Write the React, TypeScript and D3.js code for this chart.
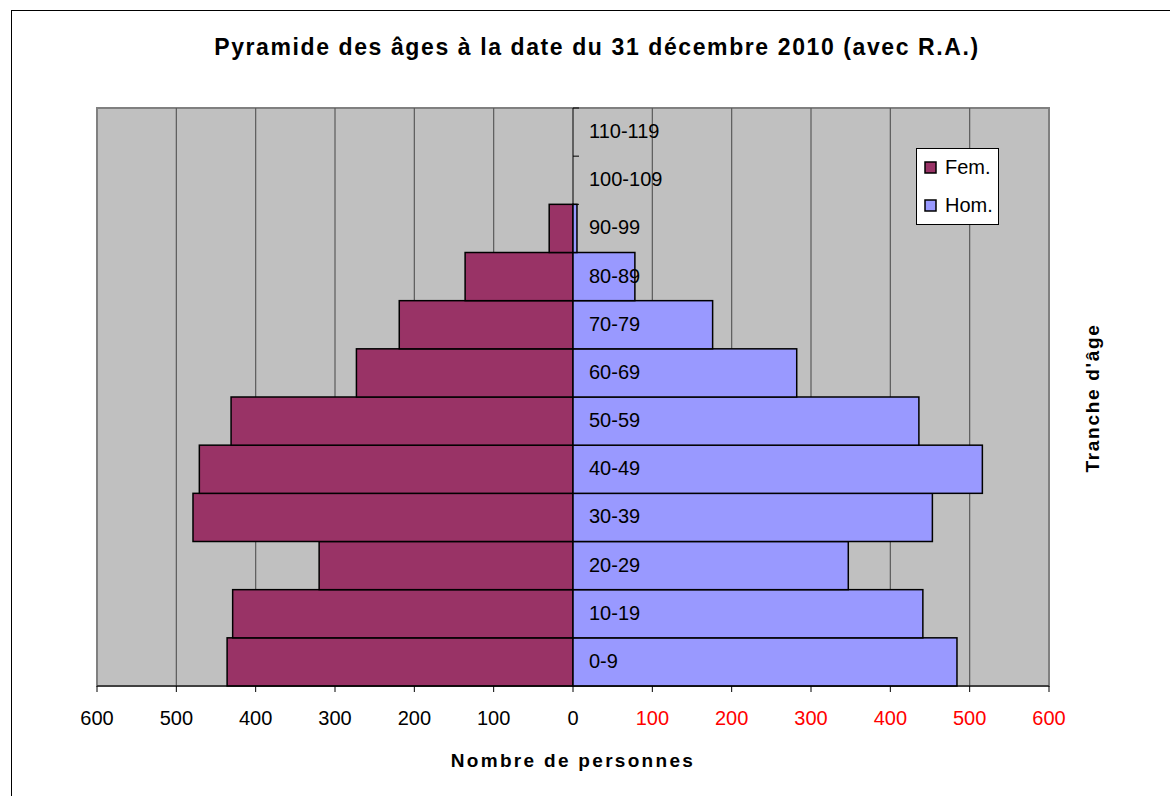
import React, { useEffect, useRef } from 'react';
import * as d3 from 'd3';

// tranches d'âge, de bas en haut
const tranches = ['0-9', '10-19', '20-29', '30-39', '40-49', '50-59', '60-69', '70-79', '80-89', '90-99', '100-109', '110-119'];
const femmes = [436, 429, 320, 479, 471, 431, 273, 219, 136, 30, 0, 0];
const hommes = [484, 441, 347, 453, 516, 436, 282, 176, 78, 5, 0, 0];
const ticks = [-600, -500, -400, -300, -200, -100, 0, 100, 200, 300, 400, 500, 600];

const FONT = '"Liberation Sans", Arial, sans-serif';

const App = () => {
    const svgRef = useRef<SVGSVGElement | null>(null);

    useEffect(() => {
        const svg = d3.select(svgRef.current);
        svg.selectAll('*').remove();

        const left = 97, right = 1049, top = 108, bottom = 686;

        const x = d3.scaleLinear().domain([-600, 600]).range([left, right]);
        const y = d3.scaleBand().domain(tranches.slice().reverse()).range([top, bottom]).padding(0);

        // cadre extérieur
        svg.append('rect')
            .attr('x', 11.5).attr('y', 10.5)
            .attr('width', 1200).attr('height', 820)
            .attr('fill', '#fff').attr('stroke', '#000').attr('stroke-width', 1);

        svg.append('text')
            .attr('x', 597).attr('y', 55)
            .attr('text-anchor', 'middle')
            .style('font-family', FONT).style('font-weight', 'bold').style('font-size', '23px')
            .style('letter-spacing', '1.6px')
            .text('Pyramide des âges à la date du 31 décembre 2010 (avec R.A.)');

        // zone de traçage
        svg.append('rect')
            .attr('x', left).attr('y', top)
            .attr('width', right - left).attr('height', bottom - top)
            .attr('fill', '#c0c0c0').attr('stroke', '#808080').attr('stroke-width', 2);

        svg.append('g')
            .selectAll('line')
            .data(ticks.filter(t => t !== 0 && Math.abs(t) !== 600))
            .enter()
            .append('line')
            .attr('x1', d => x(d)).attr('x2', d => x(d))
            .attr('y1', top).attr('y2', bottom)
            .attr('stroke', '#5a5a5a').attr('stroke-width', 1.2);

        // axe vertical au zéro avec graduations
        const x0 = x(0);
        svg.append('line')
            .attr('x1', x0).attr('x2', x0).attr('y1', top).attr('y2', bottom)
            .attr('stroke', '#000').attr('stroke-width', 1);
        svg.append('g')
            .selectAll('line')
            .data(tranches)
            .enter()
            .append('line')
            .attr('x1', x0).attr('x2', x0 + 6)
            .attr('y1', d => y(d)!).attr('y2', d => y(d)!)
            .attr('stroke', '#000').attr('stroke-width', 1);

        // barres
        svg.append('g')
            .selectAll('rect')
            .data(tranches.map((t, i) => ({ t, v: femmes[i] })).filter(d => d.v > 0))
            .enter()
            .append('rect')
            .attr('x', d => x(-d.v)).attr('width', d => x0 - x(-d.v))
            .attr('y', d => y(d.t)!).attr('height', y.bandwidth())
            .attr('fill', '#993366').attr('stroke', '#000').attr('stroke-width', 1.5);

        svg.append('g')
            .selectAll('rect')
            .data(tranches.map((t, i) => ({ t, v: hommes[i] })).filter(d => d.v > 0))
            .enter()
            .append('rect')
            .attr('x', x0).attr('width', d => x(d.v) - x0)
            .attr('y', d => y(d.t)!).attr('height', y.bandwidth())
            .attr('fill', '#9999ff').attr('stroke', '#000').attr('stroke-width', 1.5);

        // étiquettes des tranches
        svg.append('g')
            .selectAll('text')
            .data(tranches)
            .enter()
            .append('text')
            .attr('x', 589)
            .attr('y', d => y(d)! + y.bandwidth() / 2 + 6)
            .style('font-family', FONT).style('font-size', '20px')
            .attr('fill', '#000')
            .text(d => d);

        // axe horizontal
        svg.append('line')
            .attr('x1', left).attr('x2', right).attr('y1', bottom).attr('y2', bottom)
            .attr('stroke', '#000').attr('stroke-width', 1);
        svg.append('g')
            .selectAll('line')
            .data(ticks)
            .enter()
            .append('line')
            .attr('x1', d => x(d)).attr('x2', d => x(d))
            .attr('y1', bottom).attr('y2', bottom + 6)
            .attr('stroke', '#000').attr('stroke-width', 1);
        svg.append('g')
            .selectAll('text')
            .data(ticks)
            .enter()
            .append('text')
            .attr('x', d => x(d))
            .attr('y', 725)
            .attr('text-anchor', 'middle')
            .style('font-family', FONT).style('font-size', '20px')
            .attr('fill', d => (d > 0 ? '#ff0000' : '#000'))
            .text(d => Math.abs(d));

        svg.append('text')
            .attr('x', 573).attr('y', 767)
            .attr('text-anchor', 'middle')
            .style('font-family', FONT).style('font-weight', 'bold').style('font-size', '19px')
            .style('letter-spacing', '2.3px')
            .text('Nombre de personnes');

        svg.append('text')
            .attr('transform', 'translate(1099,398) rotate(-90)')
            .attr('text-anchor', 'middle')
            .style('font-family', FONT).style('font-weight', 'bold').style('font-size', '19px')
            .style('letter-spacing', '1.7px')
            .text("Tranche d'âge");

        // légende
        const legend = svg.append('g');
        legend.append('rect')
            .attr('x', 916.5).attr('y', 148.5).attr('width', 82).attr('height', 76)
            .attr('fill', '#fff').attr('stroke', '#000').attr('stroke-width', 1);
        const items = [{ label: 'Fem.', color: '#993366' }, { label: 'Hom.', color: '#9999ff' }];
        items.forEach((it, i) => {
            legend.append('rect')
                .attr('x', 925).attr('y', 162 + i * 38).attr('width', 11).attr('height', 11)
                .attr('fill', it.color).attr('stroke', '#000').attr('stroke-width', 1.5);
            legend.append('text')
                .attr('x', 945).attr('y', 174 + i * 38)
                .style('font-family', FONT).style('font-size', '20px')
                .text(it.label);
        });
    }, []);

    return (
        <svg ref={svgRef} width={1170} height={796}
            style={{ position: 'absolute', left: 0, top: 0, background: '#fff' }} />
    );
};

export default App;
